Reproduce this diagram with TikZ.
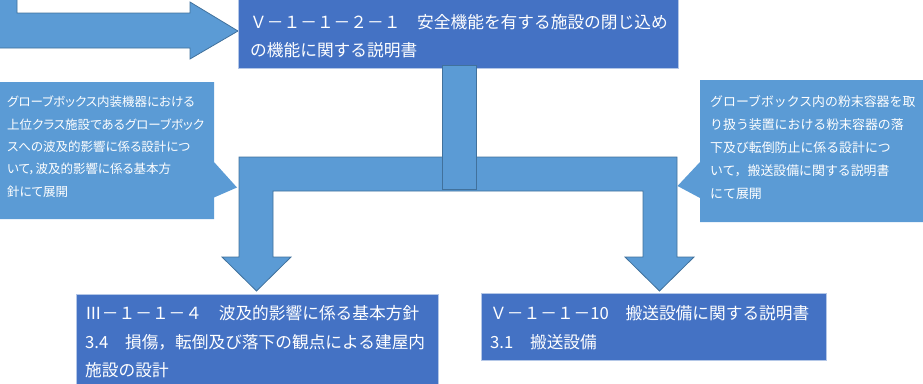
\documentclass[tikz,border=0pt]{standalone}
\usepackage{fontspec}
\setmainfont{Noto Sans CJK JP}
\newfontfamily\leftcjk{Noto Sans CJK JP}[CharacterWidth=AlternateProportional]
\definecolor{boxblue}{HTML}{4472C4}
\definecolor{arrblue}{HTML}{5B9BD5}
\definecolor{arredge}{HTML}{41719C}
\definecolor{boxedge}{HTML}{B4C7E7}
\begin{document}
\begin{tikzpicture}[x=1pt,y=-1pt,
  boxnode/.style={draw=boxedge, line width=0.8pt, fill=boxblue, inner sep=0pt, outer sep=0pt, anchor=north west},
  arrowshape/.style={fill=arrblue, draw=arredge, line width=0.8pt, line join=miter},
  callout/.style={fill=arrblue, draw=none},
  bigtxt/.style={text=white, font=\fontsize{16.7}{20}\selectfont, anchor=west, inner sep=0pt},
  lefttxt/.style={text=white, font=\leftcjk\fontsize{12.5}{15}\selectfont, anchor=west, inner sep=0pt},
  righttxt/.style={text=white, font=\fontsize{12.9}{15}\selectfont, anchor=west, inner sep=0pt}]
\useasboundingbox (0,0) rectangle (923,383);
\clip (0,0) rectangle (923,383);

% bent arrow at top left
\draw[arrowshape] (-5,-5) -- (17,-5) -- (17,13) -- (190,13) -- (190,2) -- (238,31)
  -- (190,59) -- (190,48) -- (-5,48) -- cycle;

% top box
\node[boxnode, minimum width=440pt, minimum height=71pt] (top) at (238,-3) {};
\node[bigtxt] (top1) at (250,22) {Ｖ－１－１－２－１　安全機能を有する施設の閉じ込め};
\node[bigtxt] (top2) at (250,50) {の機能に関する説明書};

% tee arrow
\draw[arrowshape] (239,157) -- (677,157) -- (677,257) -- (694,257) -- (659.5,291)
  -- (625,257) -- (643,257) -- (643,191) -- (273,191) -- (273,257) -- (291,257)
  -- (256.5,291) -- (222,257) -- (239,257) -- cycle;
\draw[arrowshape] (442,65) rectangle (476,189);

% left callout
\fill[callout] (-5,82) -- (214,82) -- (214,162) -- (237,187.5) -- (214,197.5)
  -- (214,219) -- (-5,219) -- cycle;
\node[lefttxt] (l1) at (7,101.7) {グローブボックス内装機器における};
\node[lefttxt] (l2) at (7,124.2) {上位クラス施設であるグローブボック};
\node[lefttxt] (l3) at (7,146.7) {スへの波及的影響に係る設計につ};
\node[lefttxt] (l4) at (7,169.2) {いて，波及的影響に係る基本方};
\node[lefttxt] (l5) at (7,191.7) {針にて展開};

% right callout
\fill[callout] (700,80) -- (930,80) -- (930,222) -- (700,222) -- (700,198)
  -- (677.5,186) -- (700,162) -- cycle;
\node[righttxt] (r1) at (710,101.7) {グローブボックス内の粉末容器を取};
\node[righttxt] (r2) at (710,124.8) {り扱う装置における粉末容器の落};
\node[righttxt] (r3) at (710,147.9) {下及び転倒防止に係る設計につ};
\node[righttxt] (r4) at (710,171) {いて，搬送設備に関する説明書};
\node[righttxt] (r5) at (710,194.1) {にて展開};

% bottom boxes
\node[boxnode, minimum width=362pt, minimum height=100pt] (bl) at (76,294) {};
\node[bigtxt] (bl1) at (85,313) {Ⅲ－１－１－４　波及的影響に係る基本方針};
\node[bigtxt] (bl2) at (85,342) {3.4　損傷，転倒及び落下の観点による建屋内};
\node[bigtxt] (bl3) at (85,370) {施設の設計};

\node[boxnode, minimum width=345pt, minimum height=67pt] (br) at (481,293) {};
\node[bigtxt] (br1) at (490,313) {Ｖ－１－１－10　搬送設備に関する説明書};
\node[bigtxt] (br2) at (490,341.7) {3.1　搬送設備};
\end{tikzpicture}
\end{document}
